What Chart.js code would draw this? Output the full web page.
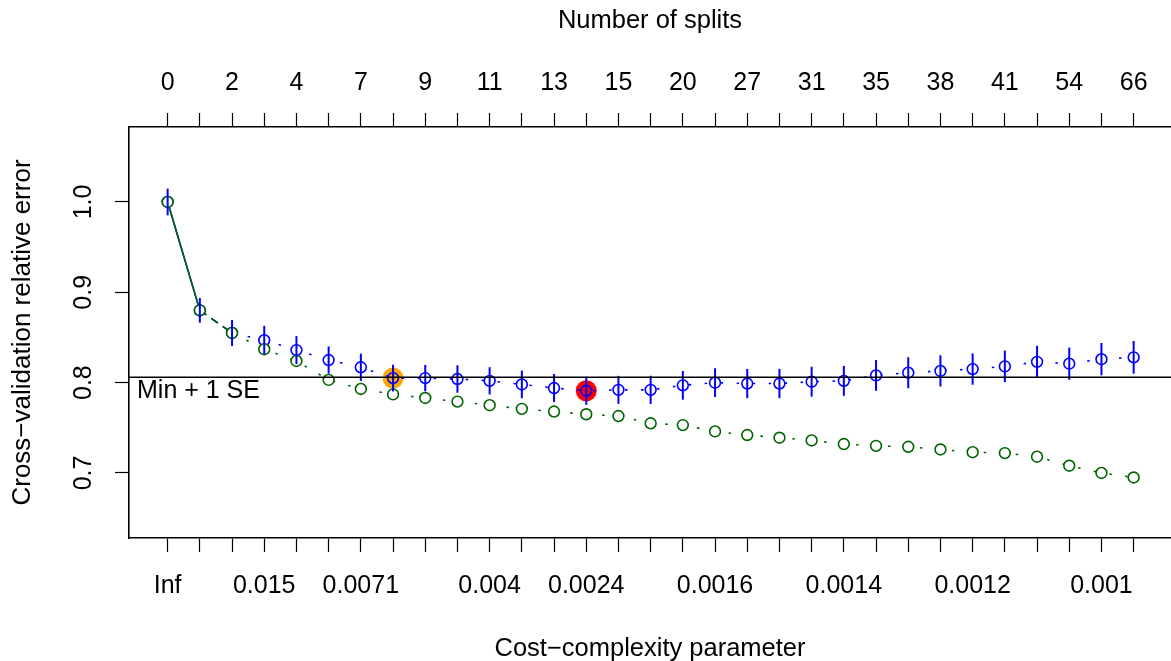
<!DOCTYPE html>
<html><head><meta charset="utf-8">
<script src="https://cdn.jsdelivr.net/npm/chart.js@4/dist/chart.umd.min.js"></script>
<style>html,body{margin:0;padding:0;background:#fff}canvas{display:block}</style>
</head><body>
<canvas id="c" width="1171" height="661"></canvas>
<script>
// ---- data ----
const positions = [0,1,2,3,4,5,6,7,8,9,10,11,12,13,14,15,16,17,18,19,20,21,22,23,24,25,26,27,28,29,30];
const nsplitTickPos = [0,2,4,6,8,10,12,14,16,18,20,22,24,26,28,30];
const nsplitLabels = ['0','2','4','7','9','11','13','15','20','27','31','35','38','41','54','66'];
const cpTickPos = [0,3,6,10,13,17,21,25,29];
const cpLabels = ['Inf','0.015','0.0071','0.004','0.0024','0.0016','0.0014','0.0012','0.001'];
const xerror = [1.000,0.880,0.855,0.847,0.836,0.825,0.817,0.805,0.805,0.804,0.802,0.798,0.794,0.791,0.792,0.792,0.797,0.800,0.799,0.799,0.801,0.802,0.808,0.811,0.813,0.815,0.818,0.823,0.821,0.826,0.828];
const xstd = [0.0148,0.0137,0.0144,0.0159,0.0155,0.0150,0.0151,0.0148,0.0146,0.0152,0.0151,0.0153,0.0155,0.0155,0.0155,0.0156,0.0159,0.0159,0.0162,0.0162,0.0166,0.0166,0.0170,0.0172,0.0173,0.0173,0.0175,0.0177,0.0179,0.0179,0.0181];
const relError = [1.000,0.880,0.855,0.837,0.824,0.803,0.793,0.787,0.783,0.779,0.775,0.771,0.768,0.765,0.763,0.755,0.753,0.746,0.742,0.739,0.736,0.732,0.730,0.729,0.726,0.723,0.722,0.718,0.708,0.700,0.695];
const yTicks = [0.7,0.8,0.9,1.0];
const minPlus1SE = 0.806;
const seIndex = 7;   // smallest tree within 1 SE (orange)
const minIndex = 13; // minimum xerror (red)

// ---- styles ----
const FONT = 'Liberation Sans, Arial, Helvetica, sans-serif';
const FS = 25;
const BLUE = '#0000ff', GREEN = '#006400', ORANGE = '#FFA500', RED = '#FF0000';
const segDash = c => c.p0DataIndex === 0 ? [] : (c.p0DataIndex === 1 ? [8, 6] : [2.5, 13.5]);

const overlay = {
  id: 'overlay',
  afterDatasetsDraw(chart) {
    const {ctx, chartArea, scales: {x, y}} = chart;
    ctx.save();
    ctx.beginPath();
    ctx.rect(chartArea.left, chartArea.top, chartArea.right - chartArea.left, chartArea.bottom - chartArea.top);
    ctx.clip();
    ctx.strokeStyle = BLUE; ctx.lineWidth = 2;
    xerror.forEach((v, i) => {
      const px = x.getPixelForValue(positions[i]);
      ctx.beginPath();
      ctx.moveTo(px, y.getPixelForValue(v - xstd[i]));
      ctx.lineTo(px, y.getPixelForValue(v + xstd[i]));
      ctx.stroke();
    });
    const ly = y.getPixelForValue(minPlus1SE);
    ctx.strokeStyle = '#000'; ctx.lineWidth = 1.6;
    ctx.beginPath(); ctx.moveTo(chartArea.left, ly); ctx.lineTo(chartArea.right, ly); ctx.stroke();
    ctx.fillStyle = '#000'; ctx.font = FS + 'px ' + FONT;
    ctx.textAlign = 'left'; ctx.textBaseline = 'middle';
    ctx.fillText('Min + 1 SE', chartArea.left + 8, ly + 13.5);
    ctx.restore();
  }
};

const tickFont = {family: FONT, size: FS};
const titleFont = {family: FONT, size: 25.5};
const gridOpts = {drawOnChartArea: false, drawTicks: true, tickLength: 14, tickColor: '#000', tickWidth: 1.2};
const borderOpts = {display: true, color: '#000', width: 1.6};
const noPad = s => { s.paddingLeft = 0; s.paddingRight = 0; s.paddingTop = 0; s.paddingBottom = 0; };

new Chart(document.getElementById('c'), {
  type: 'line',
  data: {
    datasets: [
      {
        label: 'rel error', order: 0,
        data: positions.map((p, i) => ({x: p, y: relError[i]})),
        borderColor: GREEN, borderWidth: 1.6,
        pointRadius: 5.4, pointBorderWidth: 1.6, pointBorderColor: GREEN, pointBackgroundColor: '#fff',
        segment: {borderDash: segDash}
      },
      {
        label: 'xerror', order: 1,
        data: positions.map((p, i) => ({x: p, y: xerror[i]})),
        borderColor: BLUE, borderWidth: 1.6,
        pointRadius: 5.4, pointBorderWidth: 1.6, pointBorderColor: BLUE,
        pointBackgroundColor: positions.map(i => i === seIndex ? ORANGE : (i === minIndex ? RED : '#fff')),
        segment: {borderDash: segDash}
      },
      {
        label: 'selected', order: 2, showLine: false,
        data: [{x: positions[seIndex], y: xerror[seIndex]}, {x: positions[minIndex], y: xerror[minIndex]}],
        pointRadius: 10.5, pointBorderWidth: 0,
        pointBackgroundColor: [ORANGE, RED], pointBorderColor: [ORANGE, RED]
      }
    ]
  },
  options: {
    responsive: false, animation: false, devicePixelRatio: 1,
    layout: {padding: 0, autoPadding: false},
    plugins: {legend: {display: false}, tooltip: {enabled: false}},
    scales: {
      x: {
        type: 'linear', position: 'bottom', min: -1.2, max: 31.16,
        afterBuildTicks: s => { s.ticks = positions.map(v => ({value: v})); },
        afterFit: s => { s.height = 123; noPad(s); },
        grid: gridOpts, border: borderOpts,
        ticks: {autoSkip: false, minRotation: 0, maxRotation: 0, padding: 19.5, color: '#000', font: tickFont,
          callback: v => { const k = cpTickPos.indexOf(v); return k >= 0 ? cpLabels[k] : ''; }},
        title: {display: true, text: 'Cost\u2212complexity parameter', color: '#000', font: titleFont, padding: {top: 0, bottom: -3}}
      },
      x2: {
        type: 'linear', position: 'top', min: -1.2, max: 31.16,
        afterBuildTicks: s => { s.ticks = positions.map(v => ({value: v})); },
        afterFit: s => { s.height = 127; noPad(s); },
        grid: gridOpts, border: borderOpts,
        ticks: {autoSkip: false, minRotation: 0, maxRotation: 0, padding: 15, color: '#000', font: tickFont,
          callback: v => { const k = nsplitTickPos.indexOf(v); return k >= 0 ? nsplitLabels[k] : ''; }},
        title: {display: true, text: 'Number of splits', color: '#000', font: titleFont, padding: {top: 6, bottom: 0}}
      },
      y: {
        type: 'linear', position: 'left', min: 0.628, max: 1.083,
        afterBuildTicks: s => { s.ticks = yTicks.map(v => ({value: v})); },
        afterFit: s => { s.width = 129; noPad(s); },
        grid: gridOpts, border: borderOpts,
        ticks: {minRotation: 90, maxRotation: 90, crossAlign: 'center', padding: 13.6, color: '#000', font: tickFont,
          callback: v => Number(v).toFixed(1)},
        title: {display: true, text: 'Cross\u2212validation relative error', color: '#000', font: {family: FONT, size: 26}, padding: {top: 7, bottom: 0}}
      }
    }
  },
  plugins: [overlay]
});
</script>
</body></html>
